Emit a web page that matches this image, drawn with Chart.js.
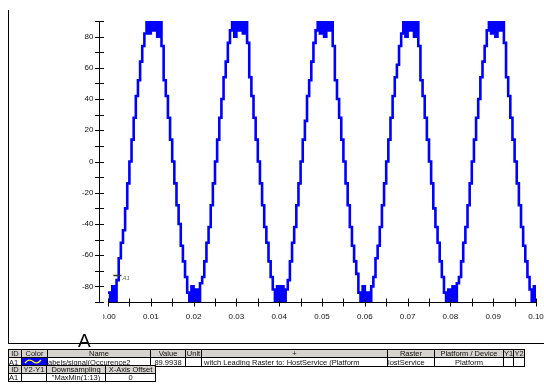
<!DOCTYPE html>
<html>
<head>
<meta charset="utf-8">
<script src="https://cdn.jsdelivr.net/npm/chart.js@4"></script>
<style>
  body { margin: 0; background: #fff; width: 544px; height: 386px; overflow: hidden; position: relative;
         font-family: "Liberation Sans", Arial, sans-serif; }
  #scope { position: absolute; left: 0; top: 0; }
  .frameL { position: absolute; left: 8px; top: 10px; width: 1px; height: 334px; background: #000; }
  .frameB { position: absolute; left: 8px; top: 343px; width: 536px; height: 1px; background: #000; }
  #bigA { position: absolute; left: 78px; top: 331px; font-size: 19px; line-height: 19px; color: #000; }
  table { position: absolute; left: 8px; border-collapse: collapse; table-layout: fixed; font-size: 7.5px; color: #111; }
  td { border: 1px solid #000; height: 7px; padding: 0; white-space: nowrap; overflow: hidden;
       text-align: center; line-height: 7px; }
  tr.hd td { background: #d6d3ce; }
  td.l { text-align: left; }
</style>
</head>
<body>
<canvas id="scope" width="544" height="330"></canvas>
<div class="frameL"></div>
<div class="frameB"></div>
<div id="bigA">A</div>

<table id="t1" style="top:349px">
  <colgroup>
    <col style="width:13px"><col style="width:25px"><col style="width:103px"><col style="width:35px">
    <col style="width:16px"><col style="width:186px"><col style="width:47px"><col style="width:69px">
    <col style="width:10px"><col style="width:11px">
  </colgroup>
  <tr class="hd"><td>ID</td><td>Color</td><td>Name</td><td>Value</td><td>Unit</td><td>+</td><td>Raster</td><td>Platform / Device</td><td>Y1</td><td>Y2</td></tr>
  <tr>
    <td class="l">A1</td>
    <td style="background:#0000ff"><svg width="25" height="7" viewBox="0 0 25 7"><path d="M3 5 Q7 0 11 3.5 T19 2" stroke="#ffff00" stroke-width="1.3" fill="none"/></svg></td>
    <td class="l">abels/signal(Occurence2</td><td>89.9938</td><td></td>
    <td class="l">&nbsp;witch Leading Raster to: HostService (Platform</td>
    <td class="l">lostService</td><td>Platform</td><td></td><td></td>
  </tr>
</table>
<table id="t2" style="top:365px">
  <colgroup>
    <col style="width:13px"><col style="width:25px"><col style="width:59px"><col style="width:50px">
  </colgroup>
  <tr class="hd"><td>ID</td><td>Y2-Y1</td><td>Downsampling</td><td>X-Axis Offset</td></tr>
  <tr><td class="l">A1</td><td></td><td>"MaxMin(1:13)</td><td>0</td></tr>
</table>

<script>
// sampled signal A1, one value every 0.5 ms from t = 0 to t = 0.1 s
const sampleStep = 0.0005;
const signalA1 = [
  -84, -90, -80, -90, -76, -62, -52, -44, -30, -14,   0,  14,  28,  42,  52,  64,  74,  82,  90,  82,
   90,  84,  90,  80,  90,  74,  52,  42,  28,  14,   0, -14, -28, -40, -54, -64, -74, -84, -90, -80,
  -90, -82, -90, -78, -74, -64, -52, -42, -28, -14,   0,  14,  28,  40,  54,  64,  76,  84,  90,  80,
   90,  84,  90,  82,  90,  76,  54,  42,  28,  14,   0, -14, -28, -42, -52, -64, -74, -82, -90, -80,
  -90, -80, -90, -82, -76, -64, -52, -42, -28, -14,   0,  14,  26,  42,  52,  64,  76,  84,  90,  82,
   90,  80,  90,  84,  90,  74,  52,  40,  28,  14,   0, -14, -28, -42, -54, -64, -72, -84, -90, -80,
  -90, -84, -90, -80, -74, -62, -54, -42, -28, -14,   0,  14,  28,  42,  54,  62,  74,  82,  90,  80,
   90,  84,  90,  80,  90,  74,  52,  42,  28,  14,   0, -14, -30, -42, -52, -64, -74, -84, -90, -82,
  -90, -80, -90, -78, -74, -64, -52, -42, -28, -14,   0,  14,  28,  40,  54,  64,  74,  84,  90,  82,
   90,  80,  90,  84,  90,  76,  54,  42,  28,  14,   0, -14, -28, -42, -54, -64, -74, -82, -90, -80,
  -90
];

// axis ticks
const xTicks = [0, 0.005, 0.01, 0.015, 0.02, 0.025, 0.03, 0.035, 0.04, 0.045, 0.05,
                0.055, 0.06, 0.065, 0.07, 0.075, 0.08, 0.085, 0.09, 0.095, 0.1];
const xLabels = [0, 0.01, 0.02, 0.03, 0.04, 0.05, 0.06, 0.07, 0.08, 0.09, 0.1];
const yTicks = [90, 80, 70, 60, 50, 40, 30, 20, 10, 0, -10, -20, -30, -40, -50, -60, -70, -80, -90];
const yLabels = [80, 60, 40, 20, 0, -20, -40, -60, -80];

// cursor marker
const cursorA1 = { x: 0.0022, y: -73, label: 'A1' };

const points = signalA1.map((v, i) => ({ x: i * sampleStep, y: v }));

// scope style axes: y axis set off to the left, ticks crossing the lines
const scopeAxes = {
  id: 'scopeAxes',
  afterDatasetsDraw(chart) {
    const c = chart.ctx, xs = chart.scales.x, ys = chart.scales.y;
    const axX = 99.5;
    const axY = Math.round(ys.getPixelForValue(-90)) + 0.5;
    c.save();
    c.strokeStyle = '#000';
    c.lineWidth = 1;
    c.beginPath();
    c.moveTo(axX, Math.round(ys.getPixelForValue(90)));
    c.lineTo(axX, Math.round(ys.getPixelForValue(-90)) + 1);
    yTicks.forEach(v => {
      const p = Math.round(ys.getPixelForValue(v)) + 0.5;
      c.moveTo(axX - 4.5, p); c.lineTo(axX + 4.5, p);
    });
    c.moveTo(Math.round(xs.getPixelForValue(0)), axY);
    c.lineTo(Math.round(xs.getPixelForValue(0.1)) + 1, axY);
    xTicks.forEach(v => {
      const p = Math.round(xs.getPixelForValue(v)) + 0.5;
      c.moveTo(p, axY - 4); c.lineTo(p, axY + 4);
    });
    c.stroke();

    c.fillStyle = '#111';
    c.font = '8px "Liberation Sans", Arial, sans-serif';
    c.textAlign = 'right';
    c.textBaseline = 'middle';
    yLabels.forEach(v => c.fillText(String(v), axX - 6, ys.getPixelForValue(v)));

    c.save();
    c.beginPath();
    c.rect(103, axY, 460, 30);
    c.clip();
    c.textAlign = 'center';
    xLabels.forEach(v => c.fillText(v.toFixed(2), xs.getPixelForValue(v), axY + 14));
    c.restore();

    // cursor A1
    const cx = xs.getPixelForValue(cursorA1.x), cy = Math.round(ys.getPixelForValue(cursorA1.y)) + 0.5;
    c.strokeStyle = '#333';
    c.lineWidth = 1.5;
    c.beginPath();
    c.moveTo(cx - 4, cy); c.lineTo(cx + 4, cy);
    c.stroke();
    c.fillStyle = '#666';
    c.font = 'italic 6px "Liberation Sans", Arial, sans-serif';
    c.textAlign = 'left';
    c.fillText(cursorA1.label, cx + 5, cy + 3);
    c.restore();
  }
};

new Chart(document.getElementById('scope'), {
  type: 'line',
  data: {
    datasets: [{
      label: 'A1',
      data: points,
      borderColor: '#0000ff',
      borderWidth: 2.6,
      pointRadius: 0,
      stepped: true,
      fill: false
    }]
  },
  options: {
    animation: false,
    responsive: false,
    layout: { padding: { left: 108, right: 8, top: 21, bottom: 28 } },
    scales: {
      x: { type: 'linear', min: 0, max: 0.1, display: false },
      y: { min: -90, max: 90, display: false }
    },
    plugins: {
      legend: { display: false },
      tooltip: { enabled: false }
    }
  },
  plugins: [scopeAxes]
});
</script>
</body>
</html>
